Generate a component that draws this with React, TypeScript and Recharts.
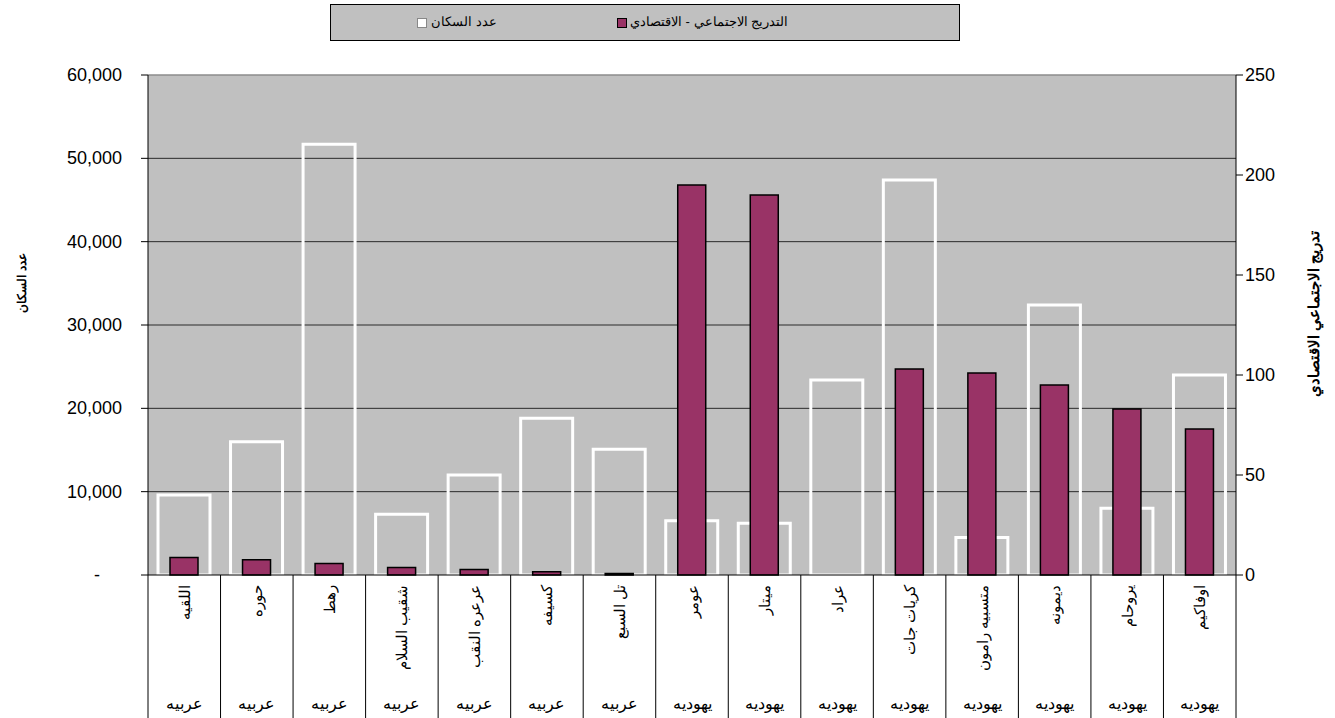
import { Bar, CartesianGrid, ComposedChart, Legend, ReferenceLine, XAxis, YAxis } from "recharts";

const towns = [
  "اللقيه",
  "حوره",
  "رهط",
  "شقيب السلام",
  "عرعره النقب",
  "كسيفه",
  "تل السبع",
  "عومر",
  "ميتار",
  "عراد",
  "كريات جات",
  "متسبيه رامون",
  "ديمونه",
  "يروحام",
  "اوفاكيم",
];
const sectors = [
  "عربيه", "عربيه", "عربيه", "عربيه", "عربيه", "عربيه", "عربيه",
  "يهوديه", "يهوديه", "يهوديه", "يهوديه", "يهوديه", "يهوديه", "يهوديه", "يهوديه",
];
const population = [9600, 16000, 51700, 7300, 12000, 18800, 15100, 6500, 6200, 23400, 47400, 4500, 32400, 8000, 24000];
const socioIndex = [8.8, 7.6, 5.8, 3.8, 2.8, 1.6, 0.8, 195, 190, null, 103, 101, 95, 83, 73];
const populationTicks = [0, 10000, 20000, 30000, 40000, 50000, 60000];
const gridValues = [10000, 20000, 30000, 40000, 50000];
const indexTicks = [0, 50, 100, 150, 200, 250];

const W = 1335;
const H = 718;
const LEFT_W = 148;
const RIGHT_W = 99;
const TOP = 75;
const XAXIS_H = 143;
const PLOT_BOTTOM = H - XAXIS_H;
const BAND = (W - LEFT_W - RIGHT_W) / towns.length;
const FONT = "Arial, 'Liberation Sans', sans-serif";
const PURPLE = "#993366";

const data = towns.map((town, i) => ({
  town,
  sector: sectors[i],
  population: population[i],
  index: socioIndex[i],
}));

function TownTick(props: any) {
  const { x, payload, index } = props;
  const half = BAND / 2;
  return (
    <g>
      <line x1={x - half} y1={PLOT_BOTTOM} x2={x - half} y2={H} stroke="#000" strokeWidth={1} />
      {index === towns.length - 1 && (
        <line x1={x + half} y1={PLOT_BOTTOM} x2={x + half} y2={H} stroke="#000" strokeWidth={1} />
      )}
      <text
        transform={`translate(${x},${PLOT_BOTTOM + 10}) rotate(-90)`}
        textAnchor="end"
        dominantBaseline="central"
        fontSize={15}
        fontFamily={FONT}
        fill="#000"
      >
        {payload.value}
      </text>
      <text x={x} y={709} textAnchor="middle" fontSize={16} fontFamily={FONT} fill="#000">
        {sectors[index]}
      </text>
    </g>
  );
}

function LeftTick(props: any) {
  const { x, y, payload } = props;
  const v = payload.value as number;
  return (
    <text
      x={v === 0 ? x - 22 : x}
      y={y}
      textAnchor="end"
      dominantBaseline="central"
      fontSize={18}
      fontFamily={FONT}
      fill="#000"
    >
      {v === 0 ? "-" : v.toLocaleString("en-US")}
    </text>
  );
}

function LegendBox() {
  return (
    <div
      style={{
        position: "relative",
        width: 630,
        height: 37,
        boxSizing: "border-box",
        border: "1px solid #000",
        background: "#C0C0C0",
        fontFamily: FONT,
        fontSize: 13,
        color: "#000",
      }}
    >
      <span
        style={{
          position: "absolute",
          left: 86,
          top: 13,
          width: 8,
          height: 8,
          background: "#fff",
          border: "1px solid #888",
        }}
      />
      <span style={{ position: "absolute", left: 100, top: 9, whiteSpace: "nowrap" }}>عدد السكان</span>
      <span
        style={{
          position: "absolute",
          left: 286,
          top: 13,
          width: 8,
          height: 8,
          background: PURPLE,
          border: "1px solid #000",
        }}
      />
      <span style={{ position: "absolute", left: 299, top: 9, whiteSpace: "nowrap" }}>
        التدريج الاجتماعي - الاقتصادي
      </span>
    </div>
  );
}

export default function App() {
  return (
    <div style={{ position: "absolute", left: 0, top: 0, width: W, height: H, background: "#fff" }}>
      <ComposedChart width={W} height={H} data={data} margin={{ top: TOP, right: 0, bottom: 0, left: 0 }}>
        <CartesianGrid
          xAxisId="pop"
          yAxisId="left"
          vertical={false}
          horizontalValues={gridValues}
          stroke="#2a2a2a"
          fill="#C0C0C0"
          fillOpacity={1}
        />
        <ReferenceLine xAxisId="pop" yAxisId="left" y={60000} stroke="#8c8c8c" strokeWidth={1.5} />
        <XAxis
          xAxisId="pop"
          dataKey="town"
          height={XAXIS_H}
          interval={0}
          tickLine={false}
          axisLine={{ stroke: "#000", strokeWidth: 1 }}
          tick={<TownTick />}
        />
        <XAxis xAxisId="idx" dataKey="town" hide height={0} axisLine={false} tickLine={false} tick={false} />
        <YAxis
          yAxisId="left"
          width={LEFT_W}
          domain={[0, 60000]}
          ticks={populationTicks}
          interval={0}
          tickSize={7}
          tickMargin={19}
          axisLine={{ stroke: "#000" }}
          tickLine={{ stroke: "#000" }}
          tick={<LeftTick />}
          label={{
            content: () => (
              <text
                transform="translate(22,283) rotate(-90)"
                textAnchor="middle"
                dominantBaseline="central"
                fontSize={12}
                fontWeight="bold"
                fontFamily={FONT}
                fill="#000"
              >
                عدد السكان
              </text>
            ),
          }}
        />
        <YAxis
          yAxisId="right"
          orientation="right"
          width={RIGHT_W}
          domain={[0, 250]}
          ticks={indexTicks}
          interval={0}
          tickSize={7}
          tickMargin={2}
          axisLine={{ stroke: "#000" }}
          tickLine={{ stroke: "#000" }}
          tick={{ fill: "#000", fontSize: 18, fontFamily: FONT }}
          label={{
            content: () => (
              <text
                transform="translate(1313,314) rotate(-90)"
                textAnchor="middle"
                dominantBaseline="central"
                fontSize={15}
                fontWeight="bold"
                fontFamily={FONT}
                fill="#000"
              >
                تدريج الاجتماعي الاقتصادي
              </text>
            ),
          }}
        />
        <Legend
          verticalAlign="middle"
          wrapperStyle={{ left: 330, top: 4, width: 630, height: 37 }}
          content={() => <LegendBox />}
        />
        <Bar
          xAxisId="pop"
          yAxisId="left"
          dataKey="population"
          barSize={52}
          fill="none"
          stroke="#fff"
          strokeWidth={3}
          isAnimationActive={false}
        />
        <Bar
          xAxisId="idx"
          yAxisId="right"
          dataKey="index"
          barSize={28}
          fill={PURPLE}
          stroke="#000"
          strokeWidth={1.5}
          isAnimationActive={false}
        />
      </ComposedChart>
    </div>
  );
}
